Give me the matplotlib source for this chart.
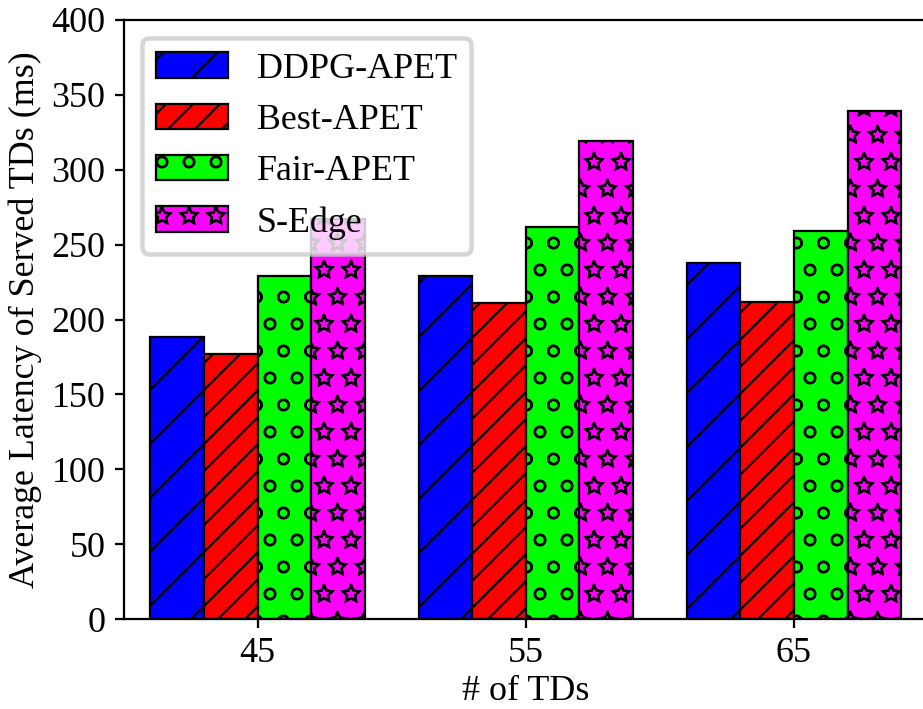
import numpy as np
import matplotlib
matplotlib.use("Agg")
import matplotlib.pyplot as plt
import matplotlib.hatch as mhatch

# outlined (hollow) stars in the hatch, as in the reference
mhatch.Stars.filled = False

categories = ["45", "55", "65"]
series_names = ["DDPG-APET", "Best-APET", "Fair-APET", "S-Edge"]
ddpg = [188, 229, 238]
best = [177, 211, 212]
fair = [229, 262, 259]
sedge = [267, 319, 339]
values = [ddpg, best, fair, sedge]
colors = ["#0000FF", "#FF0000", "#00FF00", "#FF00FF"]
hatches = ["//", "////", "oo", "**"]

DPI = 324
plt.rcParams["font.family"] = ["Liberation Serif", "DejaVu Serif"]
plt.rcParams["font.size"] = 8
plt.rcParams["hatch.linewidth"] = 0.5
plt.rcParams["axes.linewidth"] = 0.5

fig = plt.figure(figsize=(923 / DPI, 709 / DPI), dpi=DPI)
ax = fig.add_axes([123.6 / 923, 90 / 709, (928 - 123.6) / 923, (619 - 20) / 709])

x = np.arange(len(categories))
width = 0.2
for i, (name, vals) in enumerate(zip(series_names, values)):
    ax.bar(x + (i - 1.5) * width, vals, width, color=colors[i], edgecolor="black",
           linewidth=0.5, hatch=hatches[i], label=name)

ax.set_xlim(-0.5, 2.5)
ax.set_ylim(0, 400)
ax.set_xticks(x)
ax.set_xticklabels(categories)
ax.set_yticks(np.arange(0, 401, 50))
ax.tick_params(length=2, width=0.5, pad=2, labelsize=8)
ax.set_xlabel("# of TDs", fontsize=8, labelpad=1)
ax.set_ylabel("Average Latency of Served TDs (ms)", fontsize=8, labelpad=2)
ax.legend(loc="upper left", fontsize=8)

fig.savefig("out.png", dpi=DPI)
